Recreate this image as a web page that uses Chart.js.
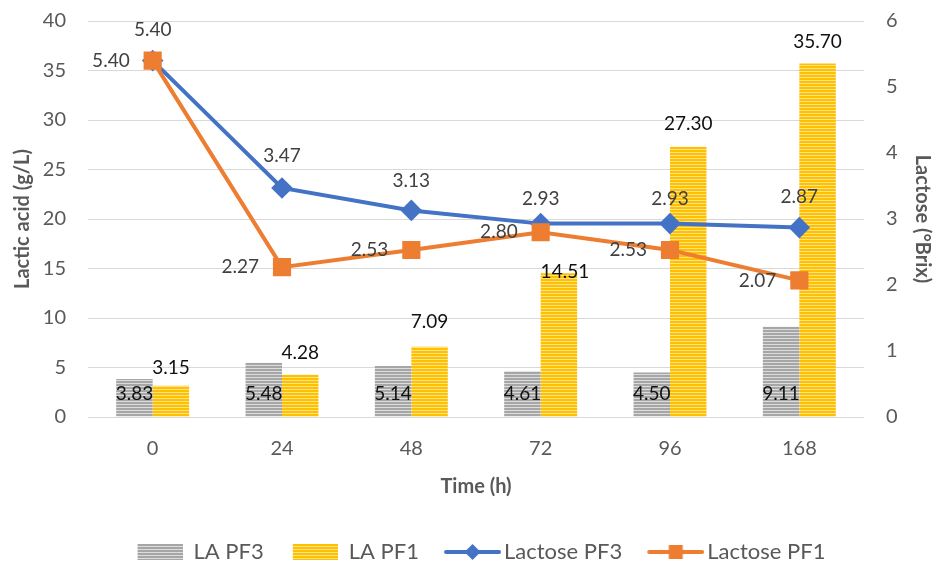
<!DOCTYPE html>
<html>
<head>
<meta charset="utf-8">
<script src="https://cdn.jsdelivr.net/npm/chart.js@4.4.1/dist/chart.umd.min.js"></script>
<style>
  html, body { margin: 0; padding: 0; background: #ffffff; }
  #wrap { width: 936px; height: 564px; }
</style>
</head>
<body>
<div id="wrap"><canvas id="chart" width="936" height="564"></canvas></div>
<script>
// Fermentation time points (h)
const timeLabels = ['0', '24', '48', '72', '96', '168'];
// Lactic acid (g/L)
const laPF3 = [3.83, 5.48, 5.14, 4.61, 4.50, 9.11];
const laPF1 = [3.15, 4.28, 7.09, 14.51, 27.30, 35.70];
// Lactose (°Brix)
const lactosePF3 = [5.40, 3.47, 3.13, 2.93, 2.93, 2.87];
const lactosePF1 = [5.40, 2.27, 2.53, 2.80, 2.53, 2.07];

const FONT = 'Lato, "Open Sans", "DejaVu Sans", sans-serif';
const AXIS_GREY = '#595959';
const CLEAR = 'rgba(0,0,0,0)';

// Horizontal stripe fill used by the bars
function stripes(dark, light) {
  const c = document.createElement('canvas');
  c.width = 4; c.height = 3;
  const g = c.getContext('2d');
  g.fillStyle = dark; g.fillRect(0, 0, 4, 2);
  g.fillStyle = light; g.fillRect(0, 2, 4, 1);
  return g.createPattern(c, 'repeat');
}
const ctxMain = document.getElementById('chart').getContext('2d');
const greyFill = stripes('#a6a6a6', '#dcdcdc');
const goldFill = stripes('#ffc000', '#ffe38c');

// Legend icons: striped boxes for the bars, line + marker for the lines
function barIcon(dark, light) {
  const c = document.createElement('canvas');
  c.width = 72; c.height = 16;
  const g = c.getContext('2d');
  for (let y = 0; y < 16; y += 3) {
    g.fillStyle = dark; g.fillRect(27, y, 45, 2);
    g.fillStyle = light; g.fillRect(27, y + 2, 45, 1);
  }
  return c;
}
function lineIcon(color, marker) {
  const c = document.createElement('canvas');
  c.width = 88; c.height = 20;
  const g = c.getContext('2d');
  g.strokeStyle = color; g.lineWidth = 4; g.lineCap = 'round';
  g.beginPath(); g.moveTo(33, 10); g.lineTo(86, 10); g.stroke();
  g.fillStyle = color;
  const cx = 59.5;
  if (marker === 'diamond') {
    g.beginPath(); g.moveTo(cx, 2); g.lineTo(cx + 8, 10); g.lineTo(cx, 18); g.lineTo(cx - 8, 10); g.closePath(); g.fill();
  } else {
    g.fillRect(cx - 7, 3, 14, 14);
  }
  return c;
}
const legendIcons = [
  barIcon('#a6a6a6', '#dcdcdc'),
  barIcon('#ffc000', '#ffe38c'),
  lineIcon('#4472c4', 'diamond'),
  lineIcon('#ed7d31', 'square')
];

// Value labels drawn next to every mark, positioned from the chart's own elements
const valueLabels = {
  id: 'valueLabels',
  afterDatasetsDraw(chart) {
    const ctx = chart.ctx;
    chart.data.datasets.forEach((ds, i) => {
      const cfg = ds.valueLabel;
      if (!cfg) return;
      const meta = chart.getDatasetMeta(i);
      ctx.save();
      ctx.font = '19px ' + FONT;
      ctx.fillStyle = cfg.color;
      ctx.textBaseline = 'middle';
      meta.data.forEach((el, j) => {
        const text = ds.data[j].toFixed(2);
        let x = el.x, y = el.y;
        ctx.textAlign = 'center';
        if (cfg.mode === 'base') {
          y = el.base - cfg.gap;
        } else if (cfg.mode === 'above') {
          y = el.y - cfg.gaps[j];
          x = el.x + (cfg.shift ? cfg.shift[j] : 0);
        } else if (cfg.mode === 'left') {
          ctx.textAlign = 'right';
          x = el.x - cfg.gap;
        }
        ctx.fillText(text, x, y);
      });
      ctx.restore();
    });
  }
};

new Chart(ctxMain, {
  type: 'bar',
  data: {
    labels: timeLabels,
    datasets: [
      {
        label: 'LA PF3',
        data: laPF3,
        backgroundColor: greyFill,
        borderWidth: 0,
        yAxisID: 'y',
        order: 2,
        barPercentage: 1,
        categoryPercentage: 0.564,
        valueLabel: { mode: 'base', gap: 23, color: '#111111' }
      },
      {
        label: 'LA PF1',
        data: laPF1,
        backgroundColor: goldFill,
        borderWidth: 0,
        yAxisID: 'y',
        order: 3,
        barPercentage: 1,
        categoryPercentage: 0.564,
        valueLabel: { mode: 'above', gaps: [18, 22, 25, 1, 23, 22], shift: [0, 0, 0, 6, 0, 0], color: '#111111' }
      },
      {
        type: 'line',
        label: 'Lactose PF3',
        data: lactosePF3,
        borderColor: '#4472c4',
        backgroundColor: '#4472c4',
        borderWidth: 4,
        pointStyle: 'rectRot',
        pointRadius: 8,
        pointHoverRadius: 8,
        tension: 0,
        yAxisID: 'y1',
        order: 1,
        valueLabel: { mode: 'above', gaps: [31, 32, 30, 25, 25, 31], color: '#404040' }
      },
      {
        type: 'line',
        label: 'Lactose PF1',
        data: lactosePF1,
        borderColor: '#ed7d31',
        backgroundColor: '#ed7d31',
        borderWidth: 4,
        pointStyle: 'rect',
        pointRadius: 10,
        pointHoverRadius: 10,
        tension: 0,
        yAxisID: 'y1',
        order: 0,
        valueLabel: { mode: 'left', gap: 23, color: '#404040' }
      }
    ]
  },
  options: {
    responsive: false,
    animation: false,
    devicePixelRatio: 1,
    layout: { padding: { top: 21, left: 0, right: 0, bottom: -9 } },
    plugins: {
      tooltip: { enabled: false },
      legend: {
        position: 'bottom',
        labels: {
          usePointStyle: true,
          pointStyleWidth: 72,
          boxHeight: 16,
          padding: 2,
          color: AXIS_GREY,
          font: { family: FONT, size: 22 },
          sort: (a, b) => a.datasetIndex - b.datasetIndex,
          generateLabels(chart) {
            const items = Chart.defaults.plugins.legend.labels.generateLabels(chart);
            items.forEach(it => { it.pointStyle = legendIcons[it.datasetIndex]; });
            return items;
          }
        }
      }
    },
    scales: {
      x: {
        grid: { display: false, drawTicks: false },
        border: { display: false },
        ticks: { color: AXIS_GREY, font: { family: FONT, size: 20 }, padding: 20 },
        title: {
          display: true,
          text: 'Time (h)',
          color: AXIS_GREY,
          font: { family: FONT, size: 20, weight: 'bold' },
          padding: { top: 0, bottom: 40 }
        },
        afterFit(s) { s.height = 122; }
      },
      y: {
        position: 'left',
        min: 0,
        max: 40,
        ticks: { stepSize: 5, color: AXIS_GREY, font: { family: FONT, size: 20 }, padding: 9 },
        grid: { color: '#d9d9d9', lineWidth: 1, drawTicks: true, tickLength: 13, tickColor: CLEAR },
        border: { display: false },
        title: {
          display: true,
          text: 'Lactic acid (g/L)',
          color: AXIS_GREY,
          font: { family: FONT, size: 20, weight: 'bold' },
          padding: { top: 10.5, bottom: 0 }
        },
        afterFit(s) { s.width = 88; }
      },
      y1: {
        position: 'right',
        min: 0,
        max: 6,
        ticks: { stepSize: 1, color: AXIS_GREY, font: { family: FONT, size: 20 }, padding: 9 },
        grid: { drawOnChartArea: false, drawTicks: true, tickLength: 13, tickColor: CLEAR },
        border: { display: false },
        title: {
          display: true,
          text: 'Lactose (°Brix)',
          color: AXIS_GREY,
          font: { family: FONT, size: 20, weight: 'bold' },
          padding: { top: 2, bottom: 0 }
        },
        afterFit(s) { s.width = 72; }
      }
    }
  },
  plugins: [valueLabels]
});
</script>
</body>
</html>
